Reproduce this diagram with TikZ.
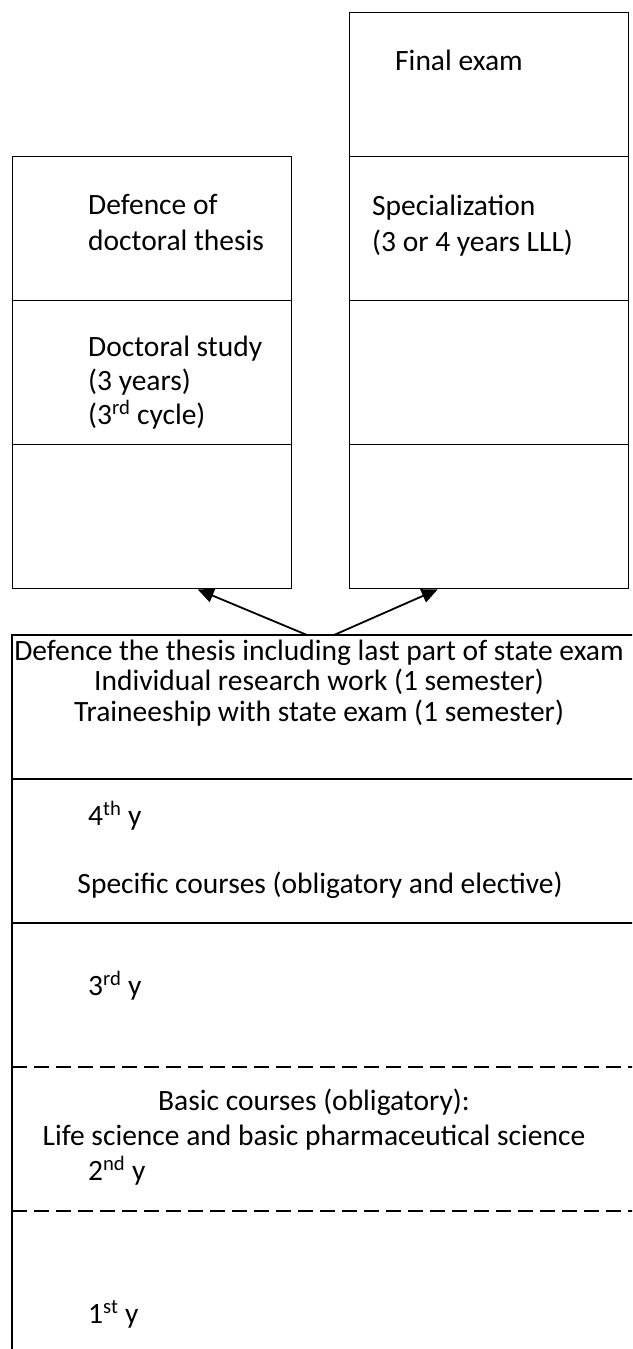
\documentclass[tikz,border=0pt]{standalone}
\usepackage{fontspec}
\setmainfont{Carlito}
\usetikzlibrary{arrows.meta, positioning, calc}

\tikzset{
  cell/.style={draw, line width=1.4pt, anchor=north west, inner sep=0pt,
    minimum width=279pt, minimum height=144pt},
  txt/.style={inner sep=0pt, anchor=base west, align=left,
    font=\fontsize{29.5}{36}\selectfont},
  ctxt/.style={inner sep=0pt, anchor=base, align=center,
    font=\fontsize{29.5}{30.5}\selectfont},
  rule/.style={line width=1.4pt},
  cut/.style={line width=1.4pt, dash pattern=on 15pt off 7pt},
  up/.style={line width=1.8pt, -{Triangle[length=16pt, width=14pt]}},
}

\begin{document}
\begin{tikzpicture}[x=1pt, y=-1pt]
  \useasboundingbox (0,0) rectangle (632,1349);
  \clip (0,0) rectangle (632,1349);

  % Specialization column (right)
  \node[cell] (fin)   at (349,12)  {};
  \node[cell] (spec)  at (349,156) {};
  \node[cell] (specC) at (349,300) {};
  \node[cell] (specD) at (349,444) {};
  % (multi-line nodes sit on the baseline of their last line)
  \node[txt] (finT)  at (395,70)  {Final exam};
  \node[txt] (specT) at (372,251) {Specialization\\(3 or 4 years LLL)};

  % Doctoral column (left)
  \node[cell] (def)  at (12,156) {};
  \node[cell] (doc)  at (12,300) {};
  \node[cell] (docC) at (12,444) {};
  \node[txt] (defT) at (88,250) {Defence of\\doctoral thesis};
  \node[txt, font=\fontsize{29.5}{34}\selectfont] (docT) at (88,424)
    {Doctoral study\\(3 years)\\(3\textsuperscript{rd} cycle)};

  % Master study block (cut off at right and bottom)
  \coordinate (fork1) at (307,635);
  \coordinate (fork2) at (334,635);
  \draw[rule] (12,1360) -- (12,635) -- (650,635);
  \draw[rule] (12,779) -- (650,779);
  \draw[rule] (12,923) -- (650,923);
  \draw[cut] (12,1067) -- (650,1067);
  \draw[cut] (12,1211) -- (650,1211);

  \node[ctxt] (finalT) at (319,721) {Defence the thesis including last part of state exam\\
    Individual research work (1 semester)\\Traineeship with state exam (1 semester)};
  \node[txt] (y4) at (88,825) {4\textsuperscript{th} y};
  \node[ctxt] (specificT) at (320,893) {Specific courses (obligatory and elective)};
  \node[txt] (y3) at (88,995) {3\textsuperscript{rd} y};
  \node[ctxt, font=\fontsize{29.5}{35}\selectfont] (basicT) at (314,1145)
    {Basic courses (obligatory):\\Life science and basic pharmaceutical science};
  \node[txt] (y2) at (88,1180) {2\textsuperscript{nd} y};
  \node[txt] (y1) at (88,1323) {1\textsuperscript{st} y};

  % Arrows to both follow-up paths
  \draw[up] (fork1) -- ([xshift=45.5pt]docC.south);
  \draw[up] (fork2) -- ([xshift=-51.5pt]specD.south);
\end{tikzpicture}
\end{document}
